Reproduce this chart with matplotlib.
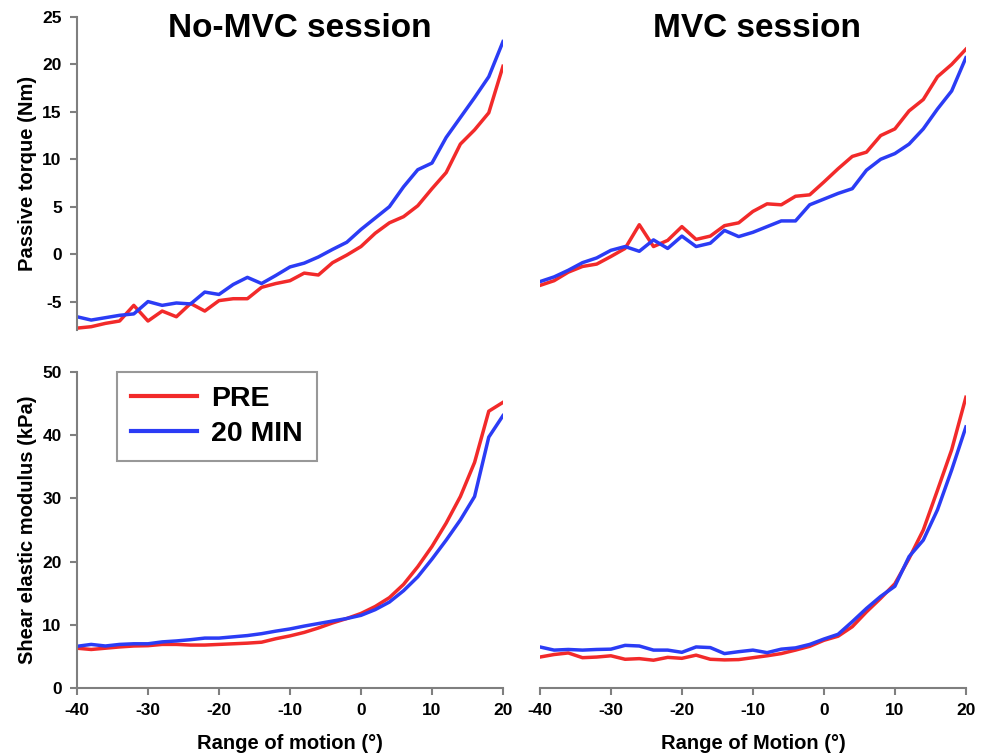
import matplotlib.pyplot as plt

## data =======================================================================
angle = list(range(-40, 21, 2))

torque_nomvc_pre = [-7.8, -7.65, -7.3, -7.05, -5.4, -7.05, -6.0, -6.6, -5.2, -6.0,
                    -4.9, -4.7, -4.7, -3.5, -3.1, -2.8, -2.0, -2.2, -0.9, -0.1,
                    0.8, 2.2, 3.3, 3.95, 5.1, 6.9, 8.6, 11.6, 13.1, 14.9, 19.8]
torque_nomvc_20 = [-6.6, -6.95, -6.7, -6.45, -6.3, -5.0, -5.4, -5.15, -5.25, -4.0,
                   -4.25, -3.2, -2.45, -3.1, -2.25, -1.35, -0.95, -0.3, 0.5, 1.25,
                   2.6, 3.8, 5.0, 7.1, 8.9, 9.6, 12.3, 14.4, 16.5, 18.7, 22.4]
torque_mvc_pre = [-3.3, -2.8, -1.9, -1.3, -1.05, -0.25, 0.6, 3.1, 0.8, 1.45,
                  2.9, 1.55, 1.9, 3.0, 3.3, 4.5, 5.3, 5.2, 6.1, 6.25,
                  7.6, 9.0, 10.3, 10.75, 12.5, 13.2, 15.1, 16.3, 18.7, 20.0, 21.6]
torque_mvc_20 = [-2.9, -2.4, -1.7, -0.9, -0.4, 0.4, 0.8, 0.3, 1.5, 0.6,
                 1.9, 0.8, 1.15, 2.5, 1.85, 2.3, 2.9, 3.5, 3.5, 5.2,
                 5.8, 6.4, 6.9, 8.85, 10.0, 10.6, 11.6, 13.2, 15.3, 17.2, 20.7]

shear_nomvc_pre = [6.3, 6.1, 6.3, 6.5, 6.65, 6.7, 6.9, 6.9, 6.8, 6.8,
                   6.9, 7.0, 7.1, 7.25, 7.8, 8.25, 8.8, 9.5, 10.3, 11.0,
                   11.8, 12.9, 14.3, 16.4, 19.2, 22.4, 26.1, 30.3, 35.7, 43.8, 45.2]
shear_nomvc_20 = [6.6, 6.9, 6.65, 6.9, 7.0, 7.0, 7.3, 7.45, 7.65, 7.9,
                  7.9, 8.1, 8.3, 8.6, 9.0, 9.35, 9.8, 10.2, 10.6, 11.0,
                  11.5, 12.4, 13.6, 15.4, 17.6, 20.4, 23.4, 26.6, 30.3, 39.7, 43.1]
shear_mvc_pre = [4.9, 5.3, 5.55, 4.8, 4.9, 5.1, 4.55, 4.65, 4.4, 4.85,
                 4.7, 5.2, 4.55, 4.45, 4.5, 4.8, 5.1, 5.45, 6.0, 6.6,
                 7.55, 8.2, 9.7, 12.05, 14.2, 16.5, 20.5, 25.0, 31.3, 37.7, 46.0]
shear_mvc_20 = [6.5, 6.0, 6.1, 6.0, 6.1, 6.15, 6.75, 6.65, 6.0, 6.0,
                5.65, 6.5, 6.4, 5.45, 5.75, 6.0, 5.6, 6.15, 6.35, 6.9,
                7.75, 8.5, 10.5, 12.6, 14.5, 16.1, 20.8, 23.4, 28.2, 34.5, 41.3]

xticks = [-40, -30, -20, -10, 0, 10, 20]
# =============================================================================

RED = '#f22a2a'
BLUE = '#2b3cf5'
GREY = '#7f7f7f'

plt.rcParams['font.family'] = ['Liberation Sans', 'DejaVu Sans']
plt.rcParams['font.weight'] = 'bold'
plt.rcParams['axes.unicode_minus'] = False

fig = plt.figure(figsize=(9.87, 7.54), dpi=100)
ax_tl = fig.add_axes([0.078, 0.5623, 0.4316, 0.4152])
ax_tr = fig.add_axes([0.547, 0.5623, 0.4316, 0.4152])
ax_bl = fig.add_axes([0.078, 0.0875, 0.4316, 0.4191])
ax_br = fig.add_axes([0.547, 0.0875, 0.4316, 0.4191])

panels = [
    (ax_tl, torque_nomvc_pre, torque_nomvc_20),
    (ax_tr, torque_mvc_pre, torque_mvc_20),
    (ax_bl, shear_nomvc_pre, shear_nomvc_20),
    (ax_br, shear_mvc_pre, shear_mvc_20),
]
for ax, pre, post in panels:
    ax.plot(angle, pre, color=RED, lw=2.5, label='PRE')
    ax.plot(angle, post, color=BLUE, lw=2.5, label='20 MIN')
    ax.set_xlim(-40, 20)
    for s in ax.spines.values():
        s.set_visible(False)
        s.set_color(GREY)
        s.set_linewidth(1.5)
    ax.tick_params(colors=GREY, labelcolor='black', width=1.5, length=5,
                   labelsize=12.5, pad=6)
    ax.set_xticks([])
    ax.set_yticks([])

for ax in (ax_tl, ax_tr):
    ax.set_ylim(-8, 25)
for ax in (ax_bl, ax_br):
    ax.set_ylim(0, 50)
    ax.spines['bottom'].set_visible(True)
    ax.set_xticks(xticks)

ax_tl.spines['left'].set_visible(True)
ax_tl.set_yticks([-5, 0, 5, 10, 15, 20, 25])
ax_bl.spines['left'].set_visible(True)
ax_bl.set_yticks([0, 10, 20, 30, 40, 50])

ax_tl.set_ylabel('Passive torque (Nm)', fontsize=14.5, fontweight='bold', labelpad=4)
ax_bl.set_ylabel('Shear elastic modulus (kPa)', fontsize=14.5, fontweight='bold', labelpad=4)
ax_bl.set_xlabel('Range of motion (°)', fontsize=14.5, fontweight='bold', labelpad=11)
ax_br.set_xlabel('Range of Motion (°)', fontsize=14.5, fontweight='bold', labelpad=11)

fig.text(0.304, 0.962, 'No-MVC session', fontsize=24, fontweight='bold',
         ha='center', va='center')
fig.text(0.767, 0.962, 'MVC session', fontsize=24, fontweight='bold',
         ha='center', va='center')

leg = ax_bl.legend(loc='upper left', bbox_to_anchor=(0.094, 1.0), borderaxespad=0,
                   fancybox=False, prop={'size': 20.5, 'weight': 'bold'},
                   handlelength=2.3, handletextpad=0.5, borderpad=0.5,
                   labelspacing=0.3)
leg.get_frame().set_edgecolor(GREY)
leg.get_frame().set_linewidth(1.5)
for line in leg.get_lines():
    line.set_linewidth(3)

plt.savefig('out.png', dpi=100)
plt.close()
